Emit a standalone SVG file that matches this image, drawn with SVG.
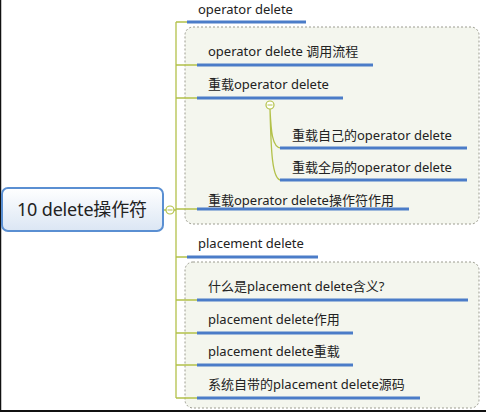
<svg xmlns="http://www.w3.org/2000/svg" width="486" height="412" viewBox="0 0 486 412">
<defs>
<linearGradient id="cg" x1="0" y1="0" x2="0" y2="1">
<stop offset="0" stop-color="#ffffff"/>
<stop offset="1" stop-color="#dbe6f4"/>
</linearGradient>
</defs>
<style>
.t{font-family:"Noto Sans","Noto Sans CJK SC",sans-serif;font-size:13px;fill:#222}
.u{stroke:#4b7cc8;stroke-width:3;fill:none}
.c{stroke:#b3c14a;stroke-width:1.3;fill:none}
.box{fill:#f4f6ee;stroke:#9c9c90;stroke-width:1;stroke-dasharray:2 2}
.tog{fill:#fff;stroke:#b3c14a;stroke-width:1.2}
</style>
<rect width="486" height="412" fill="#fff"/>
<line x1="0.5" y1="0" x2="0.5" y2="412" stroke="#111" stroke-width="1.5"/>
<line x1="0" y1="411" x2="486" y2="411" stroke="#111" stroke-width="2"/>
<rect class="box" x="185" y="27" width="294" height="197" rx="8"/>
<rect class="box" x="185" y="262" width="294" height="146" rx="8"/>
<g id="connectors">
<path class="c" d="M176 22 V398"/>
<path class="c" d="M176 22 H187 M176 65 H197 M176 98 H197 M176 209 H197 M176 257 H187 M176 300 H197 M176 333 H197 M176 365 H197 M176 398 H197"/>
<path class="c" d="M163 210 H166 M174 210 H176"/>
<path class="c" d="M270 109 C271 130 272 148 281 148 M270 109 C271 150 272 180 281 180"/>
</g>
<g id="center">
<rect x="2" y="188" width="161" height="43" rx="6" fill="url(#cg)" stroke="#5a8fd2" stroke-width="2"/>
<text x="17" y="216" textLength="130" style="font-family:'Noto Sans','Noto Sans CJK SC',sans-serif;font-size:18px;fill:#222">10 delete操作符</text>
<circle class="tog" cx="170" cy="210" r="4"/>
<line x1="167.5" y1="210" x2="172.5" y2="210" stroke="#b3c14a" stroke-width="1"/>
</g>
<g id="n-operator-delete">
<text class="t" x="198" y="14">operator delete</text>
<path class="u" d="M187 22 H306"/>
</g>
<g id="n-call-flow">
<text class="t" x="208" y="56">operator delete 调用流程</text>
<path class="u" d="M197 65 H373"/>
</g>
<g id="n-overload">
<text class="t" x="208" y="89">重载operator delete</text>
<path class="u" d="M197 98 H343"/>
<circle class="tog" cx="270" cy="105" r="4"/>
<line x1="267.5" y1="105" x2="272.5" y2="105" stroke="#b3c14a" stroke-width="1"/>
</g>
<g id="n-own">
<text class="t" x="292" y="140">重载自己的operator delete</text>
<path class="u" d="M280 148 H467"/>
</g>
<g id="n-global">
<text class="t" x="292" y="172">重载全局的operator delete</text>
<path class="u" d="M280 180 H467"/>
</g>
<g id="n-role">
<text class="t" x="208" y="205">重载operator delete操作符作用</text>
<path class="u" d="M197 209 H409"/>
</g>
<g id="n-placement">
<text class="t" x="198" y="248">placement delete</text>
<path class="u" d="M187 257 H318"/>
</g>
<g id="n-what">
<text class="t" x="208" y="291">什么是placement delete含义?</text>
<path class="u" d="M197 300 H468"/>
</g>
<g id="n-prole">
<text class="t" x="208" y="324">placement delete作用</text>
<path class="u" d="M197 333 H353"/>
</g>
<g id="n-pover">
<text class="t" x="208" y="356">placement delete重载</text>
<path class="u" d="M197 365 H353"/>
</g>
<g id="n-src">
<text class="t" x="208" y="389">系统自带的placement delete源码</text>
<path class="u" d="M197 398 H420"/>
</g>
</svg>
